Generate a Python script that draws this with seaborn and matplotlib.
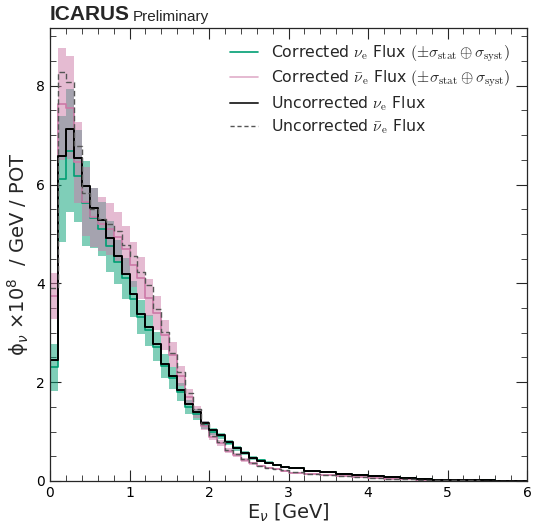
import numpy as np
import pandas as pd
import matplotlib
matplotlib.use("Agg")
import matplotlib.pyplot as plt
import seaborn as sns
from matplotlib.lines import Line2D
from matplotlib.ticker import MultipleLocator
from matplotlib.font_manager import FontProperties

# ---------------- data ----------------
bin_edges = [round(0.1 * i, 1) for i in range(31)] + [round(3.0 + 0.2 * i, 1) for i in range(1, 16)]

nu_uncorr = [2.45, 6.57, 7.12, 6.53, 5.97, 5.53, 5.29, 4.91, 4.55, 4.19,
             3.78, 3.39, 3.12, 2.78, 2.37, 2.13, 1.85, 1.56, 1.40, 1.17,
             1.03, 0.93, 0.78, 0.66, 0.57, 0.46, 0.41, 0.37, 0.32, 0.28,
             0.26, 0.21, 0.18, 0.15, 0.13, 0.10, 0.075, 0.055, 0.035, 0.025,
             0.02, 0.015, 0.012, 0.01, 0.008]

nu_corr = [2.30, 6.11, 6.69, 6.17, 5.62, 5.33, 5.10, 4.75, 4.43, 4.10,
           3.68, 3.32, 3.05, 2.72, 2.33, 2.08, 1.80, 1.50, 1.35, 1.13,
           1.00, 0.91, 0.77, 0.66, 0.57, 0.47, 0.42, 0.37, 0.32, 0.28,
           0.26, 0.21, 0.18, 0.15, 0.13, 0.10, 0.075, 0.055, 0.035, 0.025,
           0.02, 0.015, 0.012, 0.01, 0.008]

nu_err = [0.48, 1.27, 1.25, 0.93, 0.86, 0.61, 0.55, 0.52, 0.45, 0.42,
          0.37, 0.34, 0.31, 0.30, 0.25, 0.22, 0.18, 0.14, 0.11, 0.08,
          0.07, 0.06, 0.05, 0.045, 0.04, 0.035, 0.03, 0.03, 0.025, 0.025,
          0.02, 0.02, 0.015, 0.015, 0.012, 0.01, 0.008, 0.007, 0.006, 0.005,
          0.004, 0.004, 0.003, 0.003, 0.003]

nubar_uncorr = [3.90, 8.27, 8.07, 6.78, 5.82, 5.50, 5.30, 5.20, 5.06, 4.78,
                4.56, 4.23, 3.96, 3.48, 3.02, 2.59, 2.20, 1.78, 1.45, 1.15,
                0.92, 0.78, 0.63, 0.54, 0.45, 0.37, 0.31, 0.27, 0.25, 0.22,
                0.18, 0.15, 0.12, 0.10, 0.075, 0.06, 0.05, 0.04, 0.03, 0.02,
                0.015, 0.012, 0.01, 0.008, 0.006]

nubar_corr = [3.74, 7.63, 7.56, 6.45, 5.65, 5.34, 5.20, 5.10, 4.94, 4.69,
              4.38, 4.11, 3.71, 3.40, 2.96, 2.56, 2.12, 1.71, 1.40, 1.12,
              0.90, 0.76, 0.61, 0.52, 0.43, 0.36, 0.30, 0.26, 0.24, 0.21,
              0.17, 0.14, 0.115, 0.095, 0.072, 0.057, 0.047, 0.038, 0.028, 0.019,
              0.014, 0.011, 0.009, 0.007, 0.005]

nubar_err = [0.47, 1.14, 1.05, 0.82, 0.70, 0.60, 0.55, 0.52, 0.50, 0.48,
             0.45, 0.42, 0.38, 0.34, 0.30, 0.25, 0.20, 0.16, 0.12, 0.09,
             0.07, 0.06, 0.05, 0.04, 0.04, 0.03, 0.025, 0.02, 0.02, 0.02,
             0.015, 0.015, 0.012, 0.01, 0.008, 0.007, 0.006, 0.005, 0.004, 0.004,
             0.003, 0.003, 0.003, 0.002, 0.002]

legend_labels = [r"Corrected $\nu_{\rm e}$ Flux $(\pm\sigma_{\rm stat}\oplus\sigma_{\rm syst})$",
                 r"Corrected $\bar{\nu}_{\rm e}$ Flux $(\pm\sigma_{\rm stat}\oplus\sigma_{\rm syst})$",
                 r"Uncorrected $\nu_{\rm e}$ Flux",
                 r"Uncorrected $\bar{\nu}_{\rm e}$ Flux"]

# ---------------- plot ----------------
sns.set_style("ticks")
plt.rcParams['font.family'] = ['DejaVu Sans']

GREEN = "#009E73"
PINK = "#CC79A7"

edges = np.array(bin_edges)

fig = plt.figure(figsize=(5.37, 5.24), dpi=100)
ax = fig.add_axes([50 / 537, 43 / 524, 477 / 537, 453 / 524])


def ext(vals):
    v = np.asarray(vals, dtype=float)
    return np.append(v, v[-1])


def band(center, err, color):
    c = np.asarray(center)
    e = np.asarray(err)
    ax.fill_between(edges, ext(c - e), ext(c + e), step="post", color=color,
                    alpha=0.5, linewidth=0)


def steps(vals, **kw):
    df = pd.DataFrame({"E": edges, "flux": ext(vals)})
    sns.lineplot(data=df, x="E", y="flux", drawstyle="steps-post", estimator=None,
                 sort=False, ax=ax, **kw)


band(nu_corr, nu_err, GREEN)
band(nubar_corr, nubar_err, PINK)

steps(nu_corr, color=GREEN, linewidth=1.2)
steps(nubar_corr, color=PINK, linewidth=1.2)
steps(nu_uncorr, color="black", linewidth=1.4)
steps(nubar_uncorr, color="#555555", linewidth=1.0, linestyle=(0, (4, 2)))

ax.set_xlim(0, 6)
ax.set_ylim(0, 9.17)
ax.xaxis.set_major_locator(MultipleLocator(1))
ax.xaxis.set_minor_locator(MultipleLocator(0.2))
ax.yaxis.set_major_locator(MultipleLocator(2))
ax.yaxis.set_minor_locator(MultipleLocator(0.5))
ax.tick_params(which="both", direction="in", top=True, right=True, labelsize=10,
               labelcolor="black")
ax.tick_params(which="major", length=8, width=0.8)
ax.tick_params(which="minor", length=4, width=0.6)
for s in ax.spines.values():
    s.set_linewidth(0.9)

ax.set_xlabel(r"E$_{\nu}$ [GeV]", fontsize=14, labelpad=1)
ax.set_ylabel(r"ϕ$_{\nu}$ $\times$10$^{8}$  / GeV / POT", fontsize=14)

ax.text(0.0, 1.008, "ICARUS", transform=ax.transAxes, fontsize=15, fontweight="bold",
        family="Liberation Sans", ha="left", va="bottom")
ax.text(0.174, 1.008, "Preliminary", transform=ax.transAxes, fontsize=11,
        family="Liberation Sans", ha="left", va="bottom")

handles = [Line2D([], [], color=GREEN, lw=1.2),
           Line2D([], [], color=PINK, lw=1.2, alpha=0.6),
           Line2D([], [], color="#333333", lw=1.4),
           Line2D([], [], color="#555555", lw=1.0, linestyle=(0, (3, 2)))]
fp = FontProperties(family="DejaVu Sans", size=11.3, math_fontfamily="cm")
ax.legend(handles, legend_labels, loc="upper right", frameon=False, prop=fp,
          bbox_to_anchor=(0.995, 0.997), handlelength=1.8, handletextpad=0.8,
          labelspacing=0.3)

fig.savefig("out.png", dpi=100)
